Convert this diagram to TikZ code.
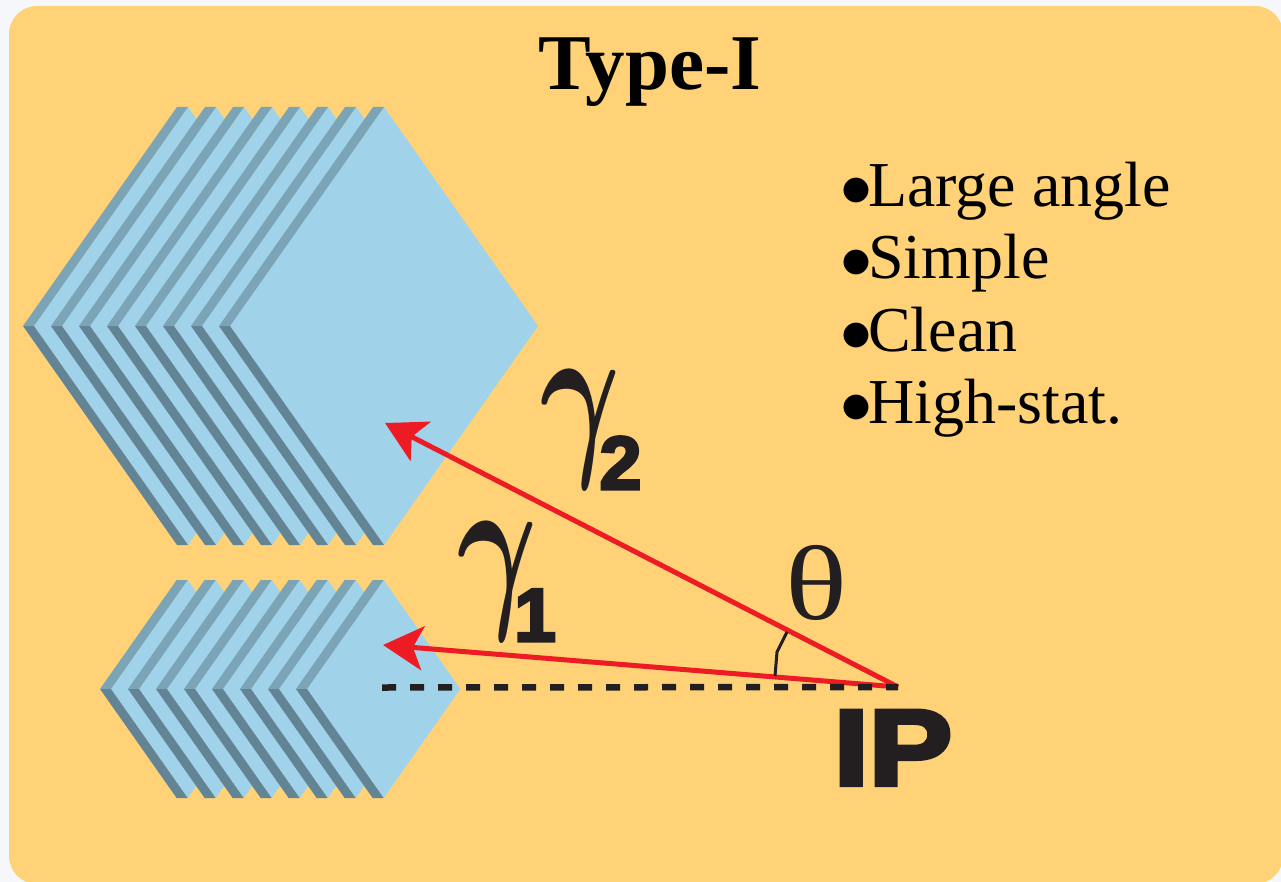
\RequirePackage{fix-cm}
\documentclass[tikz,border=0pt]{standalone}
\usepackage{fontspec}
\setmainfont{Liberation Serif}
\newfontfamily\heavyfont[FakeBold=4]{Liberation Sans Bold}
\usetikzlibrary{arrows.meta}
\definecolor{pagebg}{HTML}{F5F7FA}
\definecolor{panelbg}{HTML}{FFD277}
\definecolor{plate}{HTML}{A0D2E9}
\definecolor{plateup}{HTML}{7BA4B7}
\definecolor{platedown}{HTML}{628495}
\definecolor{rayred}{HTML}{ED1C24}
\definecolor{inkblack}{HTML}{231F20}
\newcommand{\platestack}[3]{%
\foreach \i in {0,...,7}{
\pgfmathsetmacro{\ax}{#1+28*\i}
\fill[plate] (\ax+11,#2) -- ++(#3*0.7032,-#3) -- ++(#3*0.7032,#3) -- ++(-#3*0.7032,#3) -- cycle;
\fill[plateup] (\ax,#2) -- ++(#3*0.7032,-#3) -- ++(11,0) -- (\ax+11,#2) -- cycle;
\fill[platedown] (\ax,#2) -- ++(#3*0.7032,#3) -- ++(11,0) -- (\ax+11,#2) -- cycle;
}}
\begin{document}
\begin{tikzpicture}[x=1pt, y=-1pt, ink/.style={text=inkblack, inner sep=0pt}, feature/.style={text=black, inner sep=0pt, anchor=base west, font=\fontsize{64}{72}\selectfont}, ray/.style={draw=rayred, line width=5pt, -{Stealth[length=40pt, width=44pt, inset=10pt]}}, heavy/.style={ink, xscale=1.16, transform shape, font=\fontsize{108}{108}\selectfont\heavyfont}, gammalabel/.style={ink, xscale=0.66, transform shape, font=\fontsize{185}{185}\selectfont\boldmath}, indexlabel/.style={ink, font=\fontsize{75}{75}\selectfont\heavyfont}]
\useasboundingbox (0,0) rectangle (1281,882);
\fill[pagebg] (0,0) rectangle (1281,882);
\fill[panelbg, rounded corners=28pt] (9,6) rectangle (1283,884);
\platestack{23}{326}{219}
\platestack{100}{689}{109}
\node[text=black, inner sep=0pt, anchor=base, font=\fontsize{79}{79}\selectfont\bfseries] (title) at (650,90) {Type-I};
\node[feature] (features) at (840,207) {$\bullet$\hspace{-4pt}Large angle};
\node[feature] (simple) at (840,279) {$\bullet$\hspace{-4pt}Simple};
\node[feature] (clean) at (840,351) {$\bullet$\hspace{-4pt}Clean};
\node[feature] (highstat) at (840,423) {$\bullet$\hspace{-4pt}High-stat.};
\coordinate (ip) at (898,687);
\coordinate (tipone) at (383,645);
\coordinate (tiptwo) at (385,423);
\coordinate (dashend) at (382,687.5);
\draw[ray] (ip) -- (tiptwo);
\draw[ray] (ip) -- (tipone);
\draw[inkblack, line width=6.5pt, dash pattern=on 14pt off 14pt] (dashend) -- (ip);
\coordinate (arcup) at (787,632);
\coordinate (arcdown) at (775,676);
\draw[inkblack, line width=3pt] (arcup) -- (777,652) -- (arcdown);
\node[ink, anchor=base, xscale=1.22, transform shape, font=\fontsize{106}{106}\selectfont] (theta) at (816,619) {θ};
\node[heavy, anchor=base] (iplabel) at (893,785) {IP};
\node[gammalabel, anchor=base] (gammaone) at (497,604) {$\gamma$};
\node[indexlabel, anchor=base] (indexone) at (535,641) {1};
\node[gammalabel, anchor=base] (gammatwo) at (580,452) {$\gamma$};
\node[indexlabel, anchor=base] (indextwo) at (620.5,489) {2};
\end{tikzpicture}
\end{document}
